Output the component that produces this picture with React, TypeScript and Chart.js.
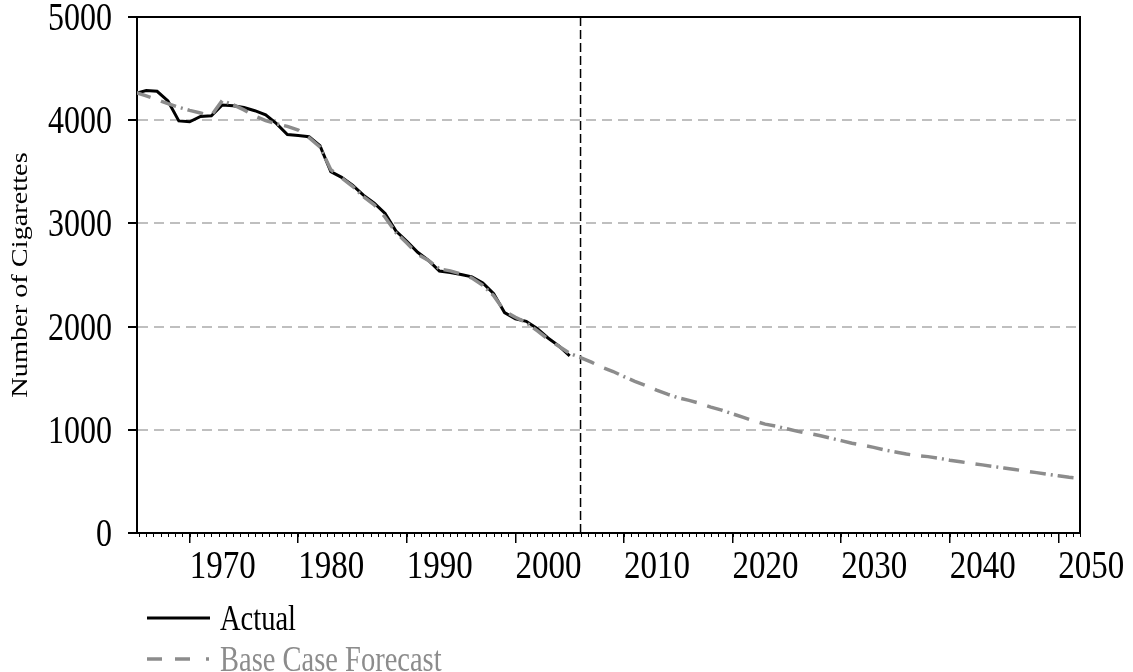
import React, { useEffect, useRef } from 'react';
import { Chart, registerables } from 'chart.js';

Chart.register(...registerables);

// ---- data ----
const ACTUAL_START_YEAR = 1965;
const ACTUAL_VALUES = [
  4259, 4287, 4280, 4186, 3993, 3985, 4037, 4043, 4148, 4141,
  4123, 4092, 4051, 3967, 3861, 3851, 3840, 3753, 3502, 3446,
  3370, 3274, 3197, 3096, 2926, 2827, 2720, 2641, 2539, 2524,
  2505, 2482, 2423, 2320, 2136, 2076, 2051, 1982, 1890, 1814,
  1716,
];

const FORECAST_START_YEAR = 1965;
const FORECAST_VALUES = [
  4270, 4235, 4200, 4160, 4125, 4095, 4070, 4045, 4190, 4150,
  4100, 4040, 3995, 3965, 3940, 3905, 3830, 3740, 3520, 3440,
  3360, 3260, 3180, 3060, 2910, 2810, 2700, 2640, 2560, 2540,
  2510, 2470, 2400, 2300, 2150, 2090, 2040, 1960, 1880, 1810,
  1740, 1700, 1655, 1605, 1565, 1515, 1470, 1430, 1385, 1345,
  1310, 1285, 1255, 1220, 1190, 1155, 1120, 1085, 1055, 1035,
  1010, 985, 965, 945, 920, 895, 870, 850, 830, 805,
  785, 765, 750, 740, 725, 705, 690, 675, 660, 645,
  630, 615, 600, 585, 570, 555, 540, 530,
];

const FORECAST_DIVIDER_YEAR = 2006;
const X_MIN = 1965.15;
const X_MAX = 2052;
const X_MAJOR_TICKS = [1970, 1980, 1990, 2000, 2010, 2020, 2030, 2040, 2050];
const X_MINOR_STEP = 2 / 3;
const Y_TICKS = [0, 1000, 2000, 3000, 4000, 5000];
const Y_TITLE = 'Number of Cigarettes';
const LABEL_ACTUAL = 'Actual';
const LABEL_FORECAST = 'Base Case Forecast';

const FONT = "'Liberation Serif', 'Times New Roman', serif";
const GRAY = '#8c8c8c';
const FORECAST_DASH = [16, 11, 16, 5, 2, 5];
const FORECAST_LEGEND_DASH = [15, 13, 15, 16, 3, 100];
const TEXT_STRETCH = 1.22;

function drawStretched(ctx: any, text: string, x: number, baseline: number, align: string, stretch: number) {
  ctx.save();
  ctx.translate(x, baseline);
  ctx.scale(1, stretch);
  ctx.textAlign = align;
  ctx.textBaseline = 'alphabetic';
  ctx.fillText(text, 0, 0);
  ctx.restore();
}

const toPoints = (start: number, values: number[]) =>
  values.map((v, i) => ({ x: start + i, y: v }));

const framePlugin = {
  id: 'frameAndExtras',
  afterDraw(chart: any) {
    const { ctx, chartArea, scales } = chart;
    const xs = scales.x;
    const ys = scales.y;
    const { left, right, top, bottom } = chartArea;
    ctx.save();
    // top & right frame
    ctx.strokeStyle = '#000';
    ctx.lineWidth = 2;
    ctx.beginPath();
    ctx.moveTo(left - 1, top);
    ctx.lineTo(right, top);
    ctx.lineTo(right, bottom);
    ctx.stroke();
    // minor x ticks
    ctx.lineWidth = 1;
    ctx.beginPath();
    const base = X_MAJOR_TICKS[0];
    for (let k = -20; k < 200; k++) {
      const v = base + k * X_MINOR_STEP;
      if (v < X_MIN - 1e-6 || v > X_MAX + 1e-6) continue;
      const px = Math.round(xs.getPixelForValue(v)) + 0.5;
      ctx.moveTo(px, bottom);
      ctx.lineTo(px, bottom + 4);
    }
    ctx.stroke();

    // tick labels (stretched serif text)
    ctx.fillStyle = '#000';
    ctx.font = `33px ${FONT}`;
    xs.ticks.forEach((t: any) => {
      const px = xs.getPixelForValue(t.value) + 33;
      drawStretched(ctx, String(t.value), px, bottom + 45, 'center', TEXT_STRETCH);
    });
    ctx.font = `32px ${FONT}`;
    ys.ticks.forEach((t: any) => {
      const py = ys.getPixelForValue(t.value);
      drawStretched(ctx, String(t.value), left - 25, py + 13, 'right', TEXT_STRETCH);
    });

    // y title
    ctx.save();
    ctx.font = `24px ${FONT}`;
    ctx.textAlign = 'center';
    ctx.textBaseline = 'middle';
    ctx.translate(21, (top + bottom) / 2);
    ctx.rotate(-Math.PI / 2);
    ctx.scale(1.18, 1);
    ctx.fillText(Y_TITLE, 0, 0);
    ctx.restore();
    ctx.restore();

    // legend
    ctx.save();
    const items = chart.data.datasets.filter((d: any) => d.label);
    const order = [LABEL_ACTUAL, LABEL_FORECAST];
    const rowY = [618, 659];
    order.forEach((lbl, i) => {
      const ds = items.find((d: any) => d.label === lbl);
      if (!ds) return;
      const y = rowY[i];
      ctx.strokeStyle = ds.borderColor;
      ctx.lineWidth = ds.borderWidth;
      ctx.lineCap = 'butt';
      ctx.setLineDash(ds.legendDash || ds.borderDash || []);
      ctx.beginPath();
      ctx.moveTo(147, y);
      ctx.lineTo(210, y);
      ctx.stroke();
      ctx.setLineDash([]);
      ctx.fillStyle = ds.legendTextColor;
      ctx.font = `28.5px ${FONT}`;
      drawStretched(ctx, ds.label, 220, y + 12, 'left', 1.24);
    });
    ctx.restore();
  },
};

export default function App() {
  const canvasRef = useRef<HTMLCanvasElement | null>(null);

  useEffect(() => {
    const canvas = canvasRef.current;
    if (!canvas) return;
    const chart = new Chart(canvas, {
      type: 'line',
      data: {
        datasets: [
          {
            label: LABEL_FORECAST,
            data: toPoints(FORECAST_START_YEAR, FORECAST_VALUES),
            borderColor: GRAY,
            borderWidth: 3.5,
            borderDash: FORECAST_DASH,
            pointRadius: 0,
            tension: 0,
            order: 0,
            legendTextColor: GRAY,
            legendDash: FORECAST_LEGEND_DASH,
          } as any,
          {
            label: LABEL_ACTUAL,
            data: toPoints(ACTUAL_START_YEAR, ACTUAL_VALUES),
            borderColor: '#000',
            borderWidth: 3,
            pointRadius: 0,
            tension: 0,
            order: 1,
            legendTextColor: '#000',
          } as any,
          {
            label: '',
            data: [
              { x: FORECAST_DIVIDER_YEAR, y: Y_TICKS[0] },
              { x: FORECAST_DIVIDER_YEAR, y: Y_TICKS[Y_TICKS.length - 1] },
            ],
            borderColor: '#000',
            borderWidth: 1.5,
            borderDash: [9, 4],
            pointRadius: 0,
            order: 2,
          } as any,
        ],
      },
      options: {
        animation: false,
        responsive: false,
        maintainAspectRatio: false,
        layout: { padding: { top: 17, right: 53, left: 0, bottom: 0 } },
        plugins: {
          legend: { display: false },
          tooltip: { enabled: false },
        },
        scales: {
          x: {
            type: 'linear',
            min: X_MIN,
            max: X_MAX,
            afterBuildTicks: (scale: any) => {
              scale.ticks = X_MAJOR_TICKS.map((v) => ({ value: v }));
            },
            afterFit: (scale: any) => {
              scale.height = 139;
              scale.paddingLeft = 0;
              scale.paddingRight = 0;
            },
            grid: {
              drawOnChartArea: false,
              tickLength: 10,
              tickColor: '#000',
              lineWidth: 1.5,
            },
            border: { display: true, color: '#000', width: 2 },
            ticks: { display: false, autoSkip: false, maxRotation: 0 },
          },
          y: {
            type: 'linear',
            min: Y_TICKS[0],
            max: Y_TICKS[Y_TICKS.length - 1],
            afterBuildTicks: (scale: any) => {
              scale.ticks = Y_TICKS.map((v) => ({ value: v }));
            },
            afterFit: (scale: any) => {
              scale.width = 137;
              scale.paddingTop = 0;
              scale.paddingBottom = 0;
            },
            grid: {
              color: (c: any) =>
                c.tick && c.tick.value > Y_TICKS[0] && c.tick.value < Y_TICKS[Y_TICKS.length - 1]
                  ? '#bfbfbf'
                  : 'rgba(0,0,0,0)',
              lineWidth: 2,
              tickLength: 9,
              tickColor: '#000',
              tickWidth: 2,
            },
            border: { display: true, color: '#000', width: 2, dash: [10, 6] },
            ticks: { display: false },
          },
        },
      } as any,
      plugins: [framePlugin],
    });
    return () => chart.destroy();
  }, []);

  return (
    <div style={{ position: 'fixed', left: 0, top: 0, width: 1133, height: 672, background: '#fff' }}>
      <canvas ref={canvasRef} width={1133} height={672} style={{ display: 'block' }} />
    </div>
  );
}
